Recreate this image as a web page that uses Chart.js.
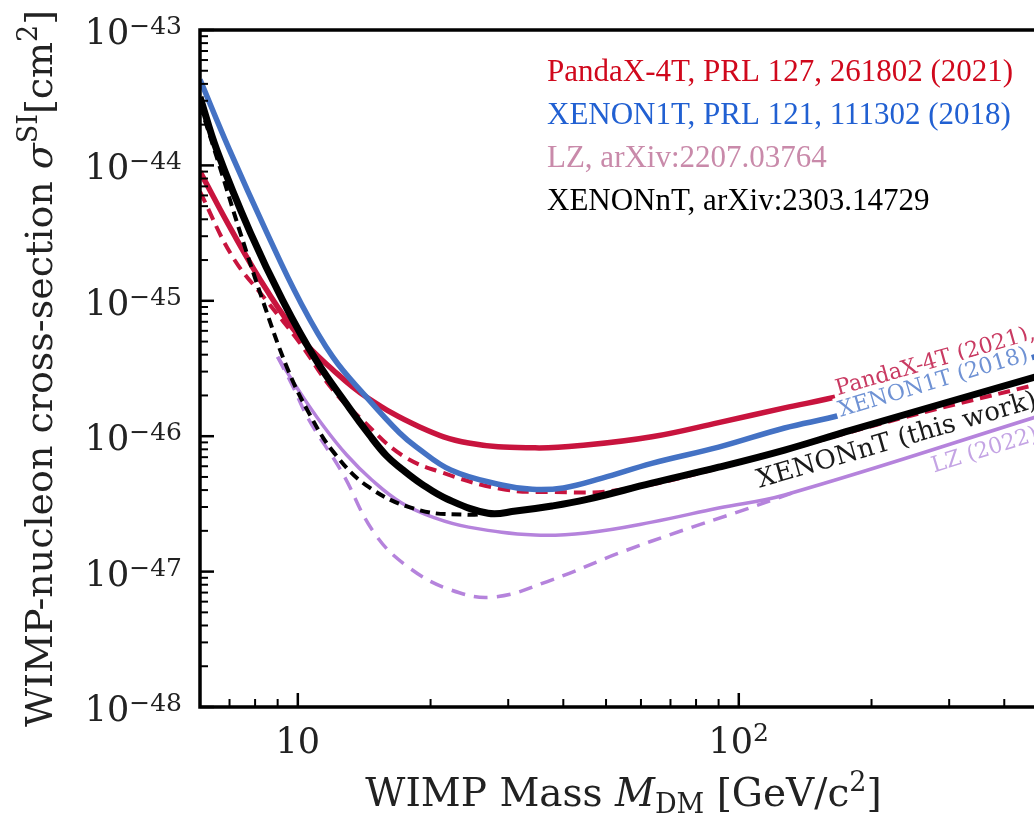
<!DOCTYPE html>
<html>
<head>
<meta charset="utf-8">
<title>WIMP-nucleon cross-section limits</title>
<script src="https://cdn.jsdelivr.net/npm/chart.js@4.4.1/dist/chart.umd.min.js"></script>
<style>
  html, body { margin: 0; padding: 0; background: #fff; overflow: hidden; }
  #wrap { position: relative; width: 1070px; height: 818px; }
</style>
</head>
<body>
<div id="wrap"><canvas id="limitsChart"></canvas></div>
<script>
// WIMP mass in GeV/c^2, cross-section in cm^2
const xntMass = [6, 6.55, 7.8, 9.25, 11, 13.1, 14.5, 15.9, 17.2, 19.1, 21.8, 27, 31.2, 37.7, 45, 63.5, 90, 127, 180, 500];
const xntLimit = [3.2e-44, 1.3e-44, 3.2e-45, 1.0e-45, 3.65e-46, 1.61e-46, 1.03e-46, 7.15e-47, 5.73e-47, 4.43e-47, 3.44e-47, 2.7e-47, 2.8e-47, 3.05e-47, 3.4e-47, 4.5e-47, 5.9e-47, 7.9e-47, 1.11e-46, 2.9e-46];

const xntDashMass = [6, 6.65, 7.4, 8.33, 9.44, 10.6, 12.1, 14.5, 18.8, 24.4, 27];
const xntDashLimit = [2.8e-44, 9.8e-45, 3.2e-45, 1.0e-45, 3.25e-46, 1.48e-46, 7.5e-47, 4.2e-47, 2.85e-47, 2.63e-47, 2.7e-47];

const pandaMass = [6, 7.12, 8.5, 10.1, 12, 14.3, 18.9, 24.4, 34.5, 45, 63.5, 90, 127, 171, 500];
const pandaLimit = [9.0e-45, 3.2e-45, 1.2e-45, 5.4e-46, 3.1e-46, 1.95e-46, 1.17e-46, 8.9e-47, 8.2e-47, 8.6e-47, 9.9e-47, 1.26e-46, 1.62e-46, 2.0e-46, 5.4e-46];

const pandaDashMass = [6, 7.12, 8.5, 10.1, 12, 14, 17.2, 21.2, 29, 37.7, 53.5, 90, 234, 500];
const pandaDashLimit = [6.4e-45, 2.1e-45, 1.0e-45, 4.9e-46, 2.2e-46, 1.32e-46, 7.26e-47, 5.4e-47, 4.07e-47, 3.87e-47, 4.0e-47, 5.8e-47, 1.36e-46, 2.52e-46];

const x1tMass = [6, 7, 8.5, 10.1, 12, 14.3, 17, 18.6, 22.3, 29, 34, 40, 49, 63.5, 90, 127, 171, 500];
const x1tLimit = [4.3e-44, 1.3e-44, 3.2e-45, 1.0e-45, 3.85e-46, 1.95e-46, 1.06e-46, 8.3e-47, 5.6e-47, 4.36e-47, 4.05e-47, 4.15e-47, 4.9e-47, 6.3e-47, 8.3e-47, 1.15e-46, 1.44e-46, 4.1e-46];

const lzMass = [9, 10.1, 11.34, 12.91, 14.72, 17.2, 20.45, 24.4, 34.5, 45, 63.5, 90, 127, 500];
const lzLimit = [3.85e-46, 2.12e-46, 1.23e-46, 7.26e-47, 4.75e-47, 3.21e-47, 2.49e-47, 2.13e-47, 1.86e-47, 1.93e-47, 2.32e-47, 2.95e-47, 3.68e-47, 1.47e-46];

const lzDashMass = [9, 9.7, 10.6, 12.6, 14.9, 17.8, 22.3, 27.9, 37.7, 53.5, 75, 98, 132];
const lzDashLimit = [3.85e-46, 2.4e-46, 1.32e-46, 5.4e-47, 1.93e-47, 1.08e-47, 7.3e-48, 6.5e-48, 8.7e-48, 1.37e-47, 2.03e-47, 2.71e-47, 3.8e-47];

// axis ticks
const massMajorTicks = [10, 100];
const massMajorLabels = [['10', ''], ['10', '2']];
const massMinorTicks = [7, 8, 9, 20, 30, 40, 50, 60, 70, 80, 90, 200, 300, 400];
const sigmaMajorTicks = [1e-48, 1e-47, 1e-46, 1e-45, 1e-44, 1e-43];
const sigmaExponents = ['\u221248', '\u221247', '\u221246', '\u221245', '\u221244', '\u221243'];
const minorSteps = [2, 3, 4, 5, 6, 7, 8, 9];

const legendLines = [
  ['PandaX-4T, PRL 127, 261802 (2021)', '#d0081c'],
  ['XENON1T, PRL 121, 111302 (2018)', '#2160d2'],
  ['LZ, arXiv:2207.03764', '#c98aaa'],
  ['XENONnT, arXiv:2303.14729', '#000000']
];

const SERIF = "'DejaVu Serif', serif";
const RED = '#c8143e';
const BLUE = '#4472c4';
const LILAC = '#b583dc';

function curve(label, masses, limits, color, width, dash, order) {
  return {
    label: label,
    data: masses.map((m, i) => ({ x: m, y: limits[i] })),
    borderColor: color,
    borderWidth: width,
    borderDash: dash,
    borderCapStyle: 'butt',
    borderJoinStyle: 'round',
    pointRadius: 0,
    fill: false,
    tension: 0.4,
    order: order
  };
}

const datasets = [
  curve('XENONnT', xntMass, xntLimit, '#000000', 7, [], 0),
  curve('XENONnT dashed', xntDashMass, xntDashLimit, '#000000', 4, [10, 6], 1),
  curve('XENON1T', x1tMass, x1tLimit, BLUE, 5.5, [], 2),
  curve('PandaX-4T', pandaMass, pandaLimit, RED, 5.5, [], 3),
  curve('PandaX-4T dashed', pandaDashMass, pandaDashLimit, RED, 4, [12, 7], 4),
  curve('LZ', lzMass, lzLimit, LILAC, 3.5, [], 5),
  curve('LZ dashed', lzDashMass, lzDashLimit, LILAC, 3.5, [14, 9], 6)
];

// in-line curve labels: dataset index, mass at label centre, pixel offset from the curve
const curveLabels = [
  { text: 'PandaX-4T (2021),', set: 3, mass: 282, off: -7, size: 22, color: '#c93a62', box: true },
  { text: 'XENON1T (2018)', set: 2, mass: 278, off: -4, size: 22, color: '#6f92d4', box: true },
  { text: 'XENONnT (this work)', set: 0, mass: 221, off: 23, size: 26, color: '#1a1a1a', box: false },
  { text: 'LZ (2022)', set: 5, mass: 352, off: 17, size: 22, color: '#c4a4e4', box: false }
];

function valueAt(ds, m) {
  const pts = ds.data;
  for (let i = 0; i < pts.length - 1; i++) {
    if (m >= pts[i].x && m <= pts[i + 1].x) {
      const t = (Math.log10(m) - Math.log10(pts[i].x)) / (Math.log10(pts[i + 1].x) - Math.log10(pts[i].x));
      return Math.pow(10, Math.log10(pts[i].y) + t * (Math.log10(pts[i + 1].y) - Math.log10(pts[i].y)));
    }
  }
  return pts[pts.length - 1].y;
}

function drawRich(ctx, parts, x, y, align) {
  let total = 0;
  parts.forEach(p => {
    ctx.font = (p.it ? 'italic ' : '') + p.s + 'px ' + (p.f || SERIF);
    p.w = ctx.measureText(p.t).width;
    total += p.w;
  });
  let cx = align === 'center' ? x - total / 2 : (align === 'right' ? x - total : x);
  ctx.textAlign = 'left';
  ctx.textBaseline = 'alphabetic';
  parts.forEach(p => {
    ctx.font = (p.it ? 'italic ' : '') + p.s + 'px ' + (p.f || SERIF);
    ctx.fillText(p.t, cx, y + (p.dy || 0));
    cx += p.w;
  });
}

function tick(ctx, x1, y1, x2, y2, w) {
  ctx.lineWidth = w;
  ctx.beginPath();
  ctx.moveTo(x1, y1);
  ctx.lineTo(x2, y2);
  ctx.stroke();
}

const decorPlugin = {
  id: 'decor',
  afterDatasetsDraw(chart) {
    const ctx = chart.ctx, xs = chart.scales.x, ys = chart.scales.y;
    curveLabels.forEach(l => {
      const ds = chart.data.datasets[l.set];
      const px = xs.getPixelForValue(l.mass);
      const py = ys.getPixelForValue(valueAt(ds, l.mass));
      const x1 = xs.getPixelForValue(l.mass / 1.3), y1 = ys.getPixelForValue(valueAt(ds, l.mass / 1.3));
      const x2 = xs.getPixelForValue(l.mass * 1.3), y2 = ys.getPixelForValue(valueAt(ds, l.mass * 1.3));
      const ang = Math.atan2(y2 - y1, x2 - x1);
      ctx.save();
      ctx.translate(px - Math.sin(ang) * l.off, py + Math.cos(ang) * l.off);
      ctx.rotate(ang);
      ctx.font = l.size + 'px ' + SERIF;
      const w = ctx.measureText(l.text).width;
      if (l.box) {
        ctx.fillStyle = '#ffffff';
        ctx.fillRect(-w / 2 - 3, -l.size * 0.62, w + 6, l.size * 1.24);
      }
      ctx.fillStyle = l.color;
      ctx.textAlign = 'center';
      ctx.textBaseline = 'middle';
      ctx.fillText(l.text, 0, 0);
      ctx.restore();
    });
  },
  afterDraw(chart) {
    const ctx = chart.ctx, a = chart.chartArea, xs = chart.scales.x, ys = chart.scales.y;
    ctx.save();
    ctx.strokeStyle = '#000';
    ctx.fillStyle = '#000';

    // frame (right side lies outside the picture)
    ctx.lineWidth = 3.5;
    ctx.beginPath();
    ctx.moveTo(a.right + 20, a.top);
    ctx.lineTo(a.left, a.top);
    ctx.lineTo(a.left, a.bottom);
    ctx.lineTo(a.right + 20, a.bottom);
    ctx.stroke();

    // inward ticks
    massMajorTicks.forEach(v => {
      const x = xs.getPixelForValue(v);
      tick(ctx, x, a.bottom, x, a.bottom - 14, 2.5);
    });
    massMinorTicks.forEach(v => {
      const x = xs.getPixelForValue(v);
      tick(ctx, x, a.bottom, x, a.bottom - 8, 2);
    });
    sigmaMajorTicks.forEach((v, i) => {
      const y = ys.getPixelForValue(v);
      tick(ctx, a.left, y, a.left + 14, y, 2.5);
      if (i < sigmaMajorTicks.length - 1) {
        minorSteps.forEach(k => {
          const ym = ys.getPixelForValue(v * k);
          tick(ctx, a.left, ym, a.left + 8, ym, 2);
        });
      }
    });

    // tick labels
    ctx.fillStyle = '#222';
    sigmaMajorTicks.forEach((v, i) => {
      const y = ys.getPixelForValue(v);
      drawRich(ctx, [{ t: '10', s: 35 }, { t: sigmaExponents[i], s: 25, dy: -10 }], 182, y + 14, 'right');
    });
    massMajorTicks.forEach((v, i) => {
      const x = xs.getPixelForValue(v);
      const parts = [{ t: massMajorLabels[i][0], s: 35 }];
      if (massMajorLabels[i][1]) parts.push({ t: massMajorLabels[i][1], s: 25, dy: -12 });
      drawRich(ctx, parts, x, a.bottom + 46, 'center');
    });

    // axis titles
    drawRich(ctx, [
      { t: 'WIMP Mass ', s: 39 },
      { t: 'M', s: 39, it: true },
      { t: 'DM', s: 27, dy: 7 },
      { t: ' [GeV/c', s: 39 },
      { t: '2', s: 27, dy: -15 },
      { t: ']', s: 39 }
    ], (a.left + a.right) / 2, 806, 'center');

    ctx.save();
    ctx.translate(52, (a.top + a.bottom) / 2);
    ctx.rotate(-Math.PI / 2);
    drawRich(ctx, [
      { t: 'WIMP-nucleon cross-section ', s: 38 },
      { t: '\u03c3', s: 38, it: true },
      { t: 'SI', s: 27, dy: -15 },
      { t: '[cm', s: 38 },
      { t: '2', s: 27, dy: -15 },
      { t: ']', s: 38 }
    ], 0, 0, 'center');
    ctx.restore();

    // reference list (top right)
    legendLines.forEach((l, i) => {
      ctx.fillStyle = l[1];
      drawRich(ctx, [{ t: l[0], s: 31, f: "'Liberation Serif', serif" }], 547, 81 + i * 43, 'left');
    });
    ctx.restore();
  }
};

new Chart(document.getElementById('limitsChart').getContext('2d'), {
  type: 'line',
  data: { datasets: datasets },
  options: {
    responsive: true,
    maintainAspectRatio: false,
    animation: false,
    layout: { padding: { left: 200, top: 30, right: 23, bottom: 111 } },
    scales: {
      x: { type: 'logarithmic', min: 6, max: 500, display: false },
      y: { type: 'logarithmic', min: 1e-48, max: 1e-43, display: false }
    },
    plugins: {
      legend: { display: false },
      tooltip: { enabled: false }
    }
  },
  plugins: [decorPlugin]
});
</script>
</body>
</html>
